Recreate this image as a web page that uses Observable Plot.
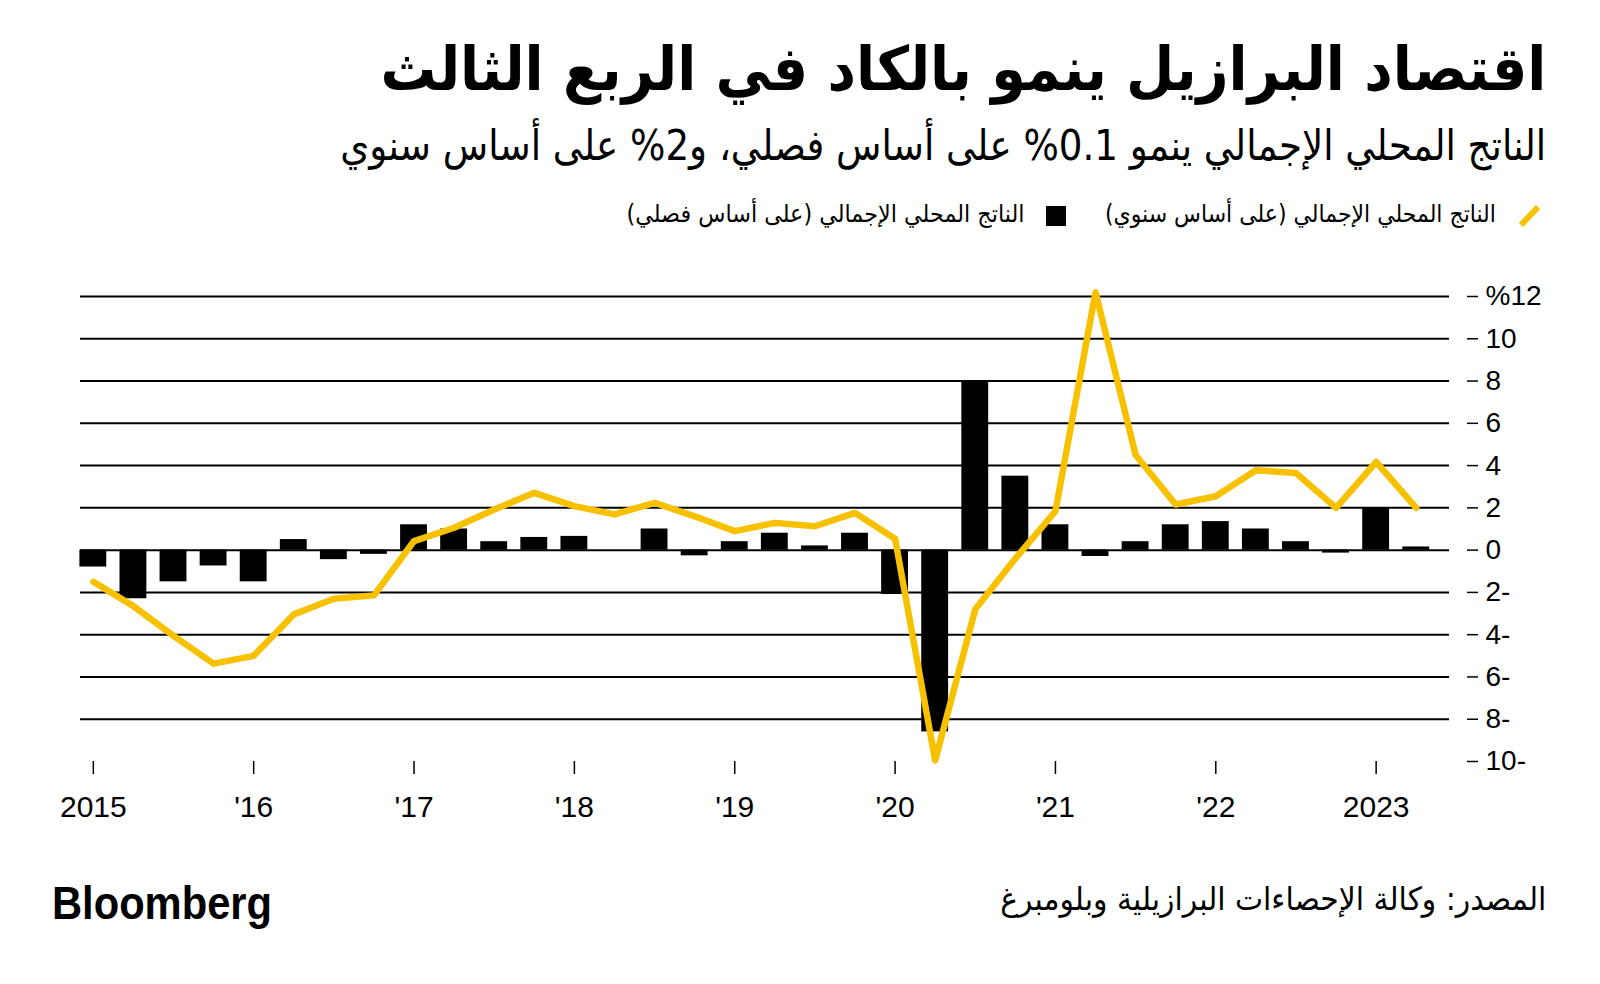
<!DOCTYPE html>
<html><head><meta charset="utf-8">
<script src="https://cdn.jsdelivr.net/npm/d3@7"></script>
<script src="https://cdn.jsdelivr.net/npm/@observablehq/plot@0.6"></script>
<style>
html,body{margin:0;padding:0;background:#fff;}
body{width:1600px;height:984px;position:relative;overflow:hidden;font-family:"DejaVu Sans Condensed","DejaVu Sans",sans-serif;color:#000;}
.t{position:absolute;white-space:nowrap;line-height:1.2;}
.rtl{direction:rtl;transform-origin:right center;}
#title{right:54px;top:32px;font-size:61px;font-weight:bold;}
#subtitle{right:54px;top:121px;font-size:42px;}
.leg{font-size:24px;top:200px;}
#leg1{right:104px;}
#leg2{right:576px;}
#swYoY{position:absolute;left:1516px;top:204px;}
#swQoQ{position:absolute;left:1046px;top:206px;}
#chart{position:absolute;left:0;top:260px;}
#logo{left:52px;top:876px;font-family:"Liberation Sans",Arial,sans-serif;font-weight:bold;font-size:46px;transform-origin:left center;}
#source{right:54px;top:880px;font-size:32px;}
</style>
</head><body>
<div id="title" class="t rtl"></div>
<div id="subtitle" class="t rtl"></div>
<svg id="swYoY" width="28" height="24"></svg>
<div id="leg1" class="t rtl leg"></div>
<svg id="swQoQ" width="20" height="20"></svg>
<div id="leg2" class="t rtl leg"></div>
<div id="chart"></div>
<div id="logo" class="t"></div>
<div id="source" class="t rtl"></div>
<script>
// ---- text ----
const titleText = "اقتصاد البرازيل ينمو بالكاد في الربع الثالث";
const subtitleText = "الناتج المحلي الإجمالي ينمو 0.1% على أساس فصلي، و2% على أساس سنوي";
const legendYoY = "الناتج المحلي الإجمالي (على أساس سنوي)";
const legendQoQ = "الناتج المحلي الإجمالي (على أساس فصلي)";
const sourceText = "المصدر: وكالة الإحصاءات البرازيلية وبلومبرغ";
const logoText = "Bloomberg";

// ---- data (by position on the time axis) ----
const quarters = [
  "2015 Q1","2015 Q2","2015 Q3","2015 Q4",
  "2016 Q1","2016 Q2","2016 Q3","2016 Q4",
  "2017 Q1","2017 Q2","2017 Q3","2017 Q4",
  "2018 Q1","2018 Q2","2018 Q3","2018 Q4",
  "2019 Q1","2019 Q2","2019 Q3","2019 Q4",
  "2020 Q1","2020 Q2","2020 Q3","2020 Q4",
  "2021 Q1","2021 Q2","2021 Q3","2021 Q4",
  "2022 Q1","2022 Q2","2022 Q3","2022 Q4",
  "2023 Q1","2023 Q2"
];
// GDP, quarter on quarter (%)
const qoq = [
  -0.8, -2.3, -1.5, -0.75,
  -1.5, 0.5, -0.45, -0.2,
  1.2, 1.0, 0.4, 0.6,
  0.65, 0.0, 1.0, -0.27,
  0.4, 0.8, 0.2, 0.8,
  -2.1, -8.6, 8.0, 3.5,
  1.2, -0.3, 0.4, 1.2,
  1.35, 1.0, 0.4, -0.14,
  2.0, 0.15
];
// GDP, year on year (%)
const yoy = [
  -1.5, -2.65, -4.06, -5.37,
  -5.0, -3.04, -2.3, -2.14,
  0.43, 1.06, 1.92, 2.71,
  2.08, 1.69, 2.24, 1.6,
  0.9, 1.29, 1.13, 1.76,
  0.54, -9.95, -2.8, -0.4,
  1.84, 12.2, 4.5, 2.16,
  2.55, 3.78, 3.65, 2.0,
  4.17, 2.0
];
const xTickQuarters = ["2015 Q1","2016 Q1","2017 Q1","2018 Q1","2019 Q1","2020 Q1","2021 Q1","2022 Q1","2023 Q1"];
const xTickLabels = ["2015","'16","'17","'18","'19","'20","'21","'22","2023"];
const yTicks = [-10,-8,-6,-4,-2,0,2,4,6,8,10,12];
const yTickLabels = ["10-","8-","6-","4-","2-","0","2","4","6","8","10","%12"];
const yGrid = [-8,-6,-4,-2,0,2,4,6,8,10,12];

const YELLOW = "#F8C100";

// ---- header / legend / footer ----
const texts = [
  ["title", titleText, 1166],
  ["subtitle", subtitleText, 1206],
  ["leg1", legendYoY, 391],
  ["leg2", legendQoQ, 398],
  ["source", sourceText, 546],
  ["logo", logoText, 220]
];
for (const [id, txt] of texts) document.getElementById(id).textContent = txt;
document.getElementById("swYoY").innerHTML =
  `<line x1="5" y1="21" x2="22" y2="3" stroke="${YELLOW}" stroke-width="6"/>`;
document.getElementById("swQoQ").innerHTML = `<rect width="20" height="20" fill="#000"/>`;

function fitAll() {
  for (const [id, , w] of texts) {
    const el = document.getElementById(id);
    el.style.transform = "none";
    const cw = el.getBoundingClientRect().width;
    if (cw > 0) el.style.transform = `scaleX(${w / cw})`;
  }
}
fitAll();
if (document.fonts && document.fonts.ready) document.fonts.ready.then(fitAll);

// ---- chart ----
const data = quarters.map((q, i) => ({q, i, qoq: qoq[i], yoy: yoy[i]}));
const xTicks = xTickQuarters.map(q => quarters.indexOf(q));

const chart = Plot.plot({
  width: 1600,
  height: 580,
  marginLeft: 80,
  marginRight: 151,
  marginTop: 36,
  marginBottom: 79,
  style: {fontFamily: "'Liberation Sans', Arial, sans-serif", fontSize: "28px", color: "#000", background: "transparent"},
  x: {type: "linear", domain: [-0.32, 33.83], axis: null},
  y: {domain: [-10, 12], axis: null},
  marks: [
    Plot.ruleY(yGrid, {stroke: "#000", strokeWidth: 2}),
    Plot.rectY(data, {x1: d => d.i - 0.335, x2: d => d.i + 0.335, y: "qoq", fill: "#000"}),
    Plot.line(data, {x: "i", y: "yoy", stroke: YELLOW, strokeWidth: 6.5, strokeLinejoin: "round", strokeLinecap: "round"}),
    Plot.axisY(yTicks, {anchor: "right", label: null, tickSize: 11, tickPadding: 8, dx: 17, stroke: "#000", strokeWidth: 1.5,
      fontSize: 28, fill: "#000", tickFormat: d => yTickLabels[yTicks.indexOf(d)]}),
    Plot.axisX(xTicks, {anchor: "bottom", label: null, tickSize: 13, tickPadding: 21, stroke: "#000", strokeWidth: 1.5,
      fontSize: 30, fill: "#000", tickFormat: d => xTickLabels[xTicks.indexOf(d)]})
  ]
});
document.getElementById("chart").appendChild(chart);
</script>
</body></html>
